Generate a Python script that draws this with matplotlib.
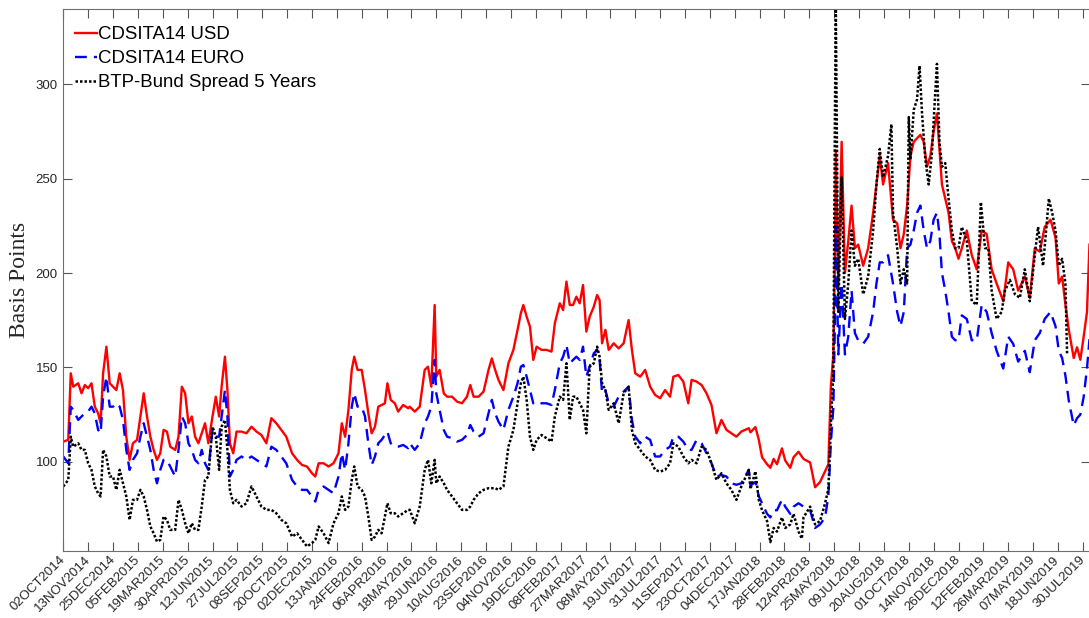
import matplotlib
matplotlib.use('Agg')
import matplotlib.pyplot as plt

# observation index (business days from 02OCT2014) for the two CDS series
cds_obs = [0, 6, 9, 12, 18, 22, 26, 30, 34, 38, 42, 45, 48, 52, 56, 60, 64, 68, 72, 76,
           80, 84, 89, 93, 97, 101, 105, 109, 113, 117, 121, 125, 129, 135, 139, 143, 147, 151, 155, 159,
           163, 167, 171, 175, 180, 184, 188, 191, 195, 198, 201, 205, 209, 215, 221, 227, 233, 239, 245, 251,
           257, 263, 269, 276, 282, 288, 294, 300, 304, 308, 314, 320, 326, 332, 336, 340, 344, 348, 351, 355,
           360, 364, 368, 372, 376, 380, 384, 388, 391, 395, 400, 404, 410, 416,
           418, 424, 430, 436, 440, 444, 448, 450, 454, 459, 463, 469, 475, 481, 487, 491, 495, 501, 507, 513,
           517, 521, 525, 531, 537, 543, 548, 552, 555, 559, 563, 567, 571, 577, 583, 589, 593, 599, 603, 607,
           611, 615, 619, 623, 627, 631, 635, 640, 644, 647, 650, 654, 658, 664, 670, 676, 682, 686, 690, 696,
           702, 708, 714, 720, 726, 732, 736, 742, 748, 754, 758, 764, 770, 776, 782, 788, 794, 800, 806, 812,
           818, 827,
           829, 835, 839, 843, 849, 853, 857, 861, 867, 871, 877, 881, 887, 893, 901, 907, 913, 919, 923, 926,
           929, 931, 932, 935, 939, 943, 947, 951, 955, 959, 965, 971, 977, 981, 985, 989, 995, 1001, 1006, 1010,
           1014, 1018, 1022, 1026, 1030, 1034, 1038, 1042, 1046, 1050, 1054, 1057, 1060, 1064, 1068, 1072, 1076, 1080, 1084, 1090,
           1096, 1102, 1108, 1114, 1120, 1126, 1134, 1140, 1146, 1152, 1160, 1166, 1172, 1178, 1184, 1191, 1197, 1201, 1205, 1209,
           1213, 1219, 1223, 1227, 1231, 1235, 1238]

usd = [110.7, 111.6, 146.9, 139.8, 141.6, 136.3, 140.7, 139, 141.6, 129.2, 125.7, 120.4, 146.9, 161, 141.6, 139.8, 138, 146.9, 138, 113.3,
       101, 109.8, 111.6, 124, 136.3, 124, 113.3, 106.3, 101, 104.5, 116.9, 116, 108, 106.3, 113.3, 139.8, 136.3, 120.4, 124, 113.3,
       109.8, 115.1, 120.4, 109.8, 124, 134.5, 124, 139.8, 155.7, 138, 109.8, 104.5, 116, 116, 115.1, 118.6, 116, 114.2, 109.8, 123.1,
       120.4, 116.9, 113.3, 104.5, 101, 98.3, 97.5, 93.9, 92.2, 99.2, 99.2, 97.5, 99.2, 104.5, 120.4, 113.3, 127.5, 148.7, 155.7, 148.7,
       148.7, 138, 125.7, 115.1, 118.6, 129.2, 130.1, 131, 141.6, 132.8, 131, 126.6, 130.1, 128.4,
       129.2, 126.6, 129.2, 148.7, 150.4, 139.8, 183.1, 145.1, 148.7, 136.3, 134.5, 134.5, 131.9, 131, 134.5, 140.7, 134.5, 134.5, 137.2, 148.7,
       154.8, 148.7, 143.4, 138, 152.2, 159.3, 169.9, 178.7, 183.1, 176.9, 171.6, 154, 161, 159.3, 159.3, 158.4, 173.4, 184, 180.4, 195.5,
       183.1, 183.1, 187.5, 184, 193.7, 169, 176.9, 182.2, 188.4, 185.7, 162.8, 169.9, 159.3, 162.8, 160.1, 162.8, 175.1, 159.3, 146.9, 145.1,
       148.7, 139.8, 135.4, 133.7, 138, 134.5, 145.1, 146, 142.5, 131, 143.4, 142.5, 140.7, 136.3, 130.1, 115.1, 122.2, 116.9, 115.1, 113.3,
       116, 117.8,
       115.6, 118.4, 111.8, 102.4, 98.7, 96.8, 101.5, 98.7, 107.1, 100.6, 96.8, 102.4, 105.3, 101.5, 99.6, 86.5, 89.3, 94.9, 98.7, 140,
       156.9, 213.2, 265, 194.5, 269.6, 200.1, 217, 235.8, 213.2, 215.1, 203.9, 213.2, 232, 247, 262.1, 247, 258.3, 228.3, 226.4, 213.2,
       220.7, 235.8, 262.1, 269.6, 271.5, 273.3, 269.6, 256.4, 262.1, 275.2, 284.6, 265.8, 247, 239.5, 232, 217, 213.2, 207.6, 213.2, 222.6,
       209.5, 202, 222.6, 220.7, 202, 194.5, 185.1, 205.7, 202, 190.7, 198.2, 186.9, 213.2, 211.4, 224.5, 228.3, 218.9, 194.5, 198.2, 183.2,
       170.1, 155, 160.7, 154.1, 166.3, 179.4, 215.1]

euro = [102.8, 99.2, 129.2, 127.5, 122.2, 124, 125.7, 126.6, 129.2, 125.7, 116.9, 115.1, 134.5, 145.1, 129.2, 129.2, 131, 129.2, 122.2, 106.3,
        95.7, 101, 104.5, 113.3, 120.4, 113.3, 106.3, 95.7, 88.6, 95.7, 101, 101, 97.5, 92.2, 106.3, 124, 120.4, 109.8, 106.3, 101,
        99.2, 106.3, 99.2, 95.7, 116.9, 113.3, 113.3, 124, 138, 124, 92.2, 95.7, 101, 102.8, 101, 102.8, 101, 99.2, 97.5, 108,
        106.3, 102.8, 99.2, 90.4, 86.9, 85.1, 85.1, 81.6, 78.9, 85.1, 86.9, 85.1, 83.3, 92.2, 104.5, 95.7, 109.8, 129.2, 136.3, 129.2,
        129.2, 124, 109.8, 98.3, 102.8, 109.8, 111.6, 114.2, 116, 109.8, 108, 108, 108.9, 107.2,
        109.8, 106.3, 109.8, 120.4, 124, 129.2, 154, 136.3, 127.5, 116.9, 113.3, 112.5, 110.7, 111.6, 114.2, 119.5, 116, 113.3, 115.1, 125.7,
        132.8, 125.7, 121.3, 116.9, 127.5, 134.5, 141.6, 150.4, 151.3, 145.1, 138, 131, 131.9, 131, 131, 130.1, 138, 152.2, 155.7, 161.9,
        152.2, 154, 155.7, 154, 161, 145.1, 150.4, 157.5, 159.3, 154, 136.3, 138, 131, 129.2, 134.5, 137.2, 139.8, 122.2, 113.3, 109.8,
        113.3, 111.6, 102.8, 102.8, 106.3, 108, 113.3, 113.3, 110.7, 106.3, 106.3, 111.6, 109.8, 104.5, 99.2, 92.2, 93, 92.2, 88.6, 87.8,
        88.6, 95.7,
        87.4, 89.3, 81.8, 78, 72.4, 70.5, 74.3, 74.3, 79.9, 76.2, 72.4, 76.2, 78, 76.2, 74.3, 64.9, 66.8, 70.5, 81.8, 110,
        128.7, 175.7, 225, 156.9, 194.5, 156.9, 166.3, 190.7, 168.2, 164.4, 162.5, 166.3, 179.4, 194.5, 205.7, 205.7, 209.5, 194.5, 179.4, 171.9,
        179.4, 213.2, 215.1, 222.6, 232, 235.8, 222.6, 213.2, 217, 228.3, 232, 220.7, 200.1, 190.7, 179.4, 166.3, 164.4, 164.4, 177.6, 175.7,
        164.4, 164.4, 183.2, 179.4, 168.2, 158.8, 149.4, 166.3, 162.5, 153.1, 158.8, 147.5, 164.4, 168.2, 175.7, 179.4, 171.9, 158.8, 155, 145.6,
        132.5, 119.3, 123.1, 125, 134.4, 149.4, 165]

# BTP-Bund spread, same index scale
btp_obs = cds_obs[:176] + [
    829, 835, 839, 843, 849, 853, 857, 861, 867, 871, 877, 881, 887, 891, 893, 901, 907, 913, 919, 923,
    926, 929, 931, 932, 935, 939, 943, 947, 951, 955, 959, 965, 971, 977, 981, 985, 989, 995, 999, 1001,
    1006, 1010, 1014, 1018, 1020, 1022, 1026, 1030, 1033, 1036, 1040, 1044, 1048, 1051, 1054, 1057, 1060, 1064, 1068, 1072,
    1076, 1080, 1084, 1090, 1096, 1102, 1107, 1112, 1116, 1120, 1126, 1132, 1136, 1142, 1148, 1154, 1160, 1166, 1172, 1176,
    1182, 1189, 1193, 1197, 1201, 1205, 1209, 1211]

btp = [86.9, 90.4, 113.3, 108, 109.8, 106.3, 106.3, 99.2, 95.7, 86.9, 83.3, 81.6, 106.3, 102.8, 92.2, 92.2, 85.1, 95.7, 88.6, 81.6,
       69.2, 79.8, 79.8, 85.1, 81.6, 74.5, 65.7, 62.1, 57.7, 58.6, 71, 69.2, 63.9, 63.9, 79.8, 74.5, 67.4, 62.1, 67.4, 63.9,
       63.9, 76.3, 90.4, 92.2, 118.6, 113.3, 95.7, 118.6, 122.2, 106.3, 85.1, 78, 79.8, 76.3, 78, 86.9, 81.6, 76.3, 74.5, 74.5,
       72.7, 69.2, 67.4, 60.3, 62.1, 58.6, 55.1, 56.9, 58.6, 65.7, 62.1, 56.9, 67.4, 72.7, 81.6, 74.5, 76.3, 90.4, 97.5, 86.9,
       85.1, 81.6, 71, 58.6, 60.3, 63.9, 62.1, 71, 78, 72.7, 72.7, 71, 72.7, 74.5,
       74.5, 67.4, 76.3, 95.7, 101, 88.6, 101, 88.6, 92.2, 88.6, 85.1, 81.6, 78, 74.5, 74.5, 76.3, 79.8, 83.3, 85.1, 86,
       86, 86, 85.1, 86.9, 108, 116.9, 131, 141.6, 145.1, 132.8, 113.3, 106.3, 111.6, 114.2, 112.5, 110.7, 124, 134.5, 132.8, 152.2,
       122.2, 134.5, 134.5, 131, 127.5, 115.1, 150.4, 152.2, 161, 155.7, 141.6, 138, 127.5, 131, 120.4, 136.3, 139.8, 116.9, 109.8, 106.3,
       102.8, 101, 95.7, 94.8, 95.7, 99.2, 109.8, 108, 102.8, 99.2, 101, 99.2, 108, 106.3, 99.2, 90.4, 93.9, 88.6, 85.1, 79.8,
       86.9, 95.7,
       85.5, 94.9, 79.9, 74.3, 68.6, 57.4, 64.9, 63, 70.5, 64.9, 66.8, 72.4, 63, 59.3, 70.5, 76.2, 66.8, 68.6, 78, 85.5,
       119.3, 147.5, 288.4, 340, 179.4, 250.8, 175.7, 194.5, 222.6, 203.9, 207.6, 188.8, 198.2, 222.6, 247, 265.8, 250.8, 262.1, 278.9, 232,
       213.2, 194.5, 202, 194.5, 282.7, 260.2, 286.5, 292.1, 309.9, 284.6, 260.2, 247, 263.9, 288.4, 310.9, 269.6, 256.4, 258.3, 239.5, 222.6,
       213.2, 213.2, 224.5, 217, 185.1, 183.2, 237.7, 213.2, 213.2, 190.7, 175.7, 179.4, 190.7, 196.4, 188.8, 186.9, 202, 185.1, 209.5, 224.5,
       203.9, 239.5, 232, 222.6, 203.9, 207.6, 194.5, 156.9]

# one tick every 30 observations
tick_labels = ['02OCT2014', '13NOV2014', '25DEC2014', '05FEB2015', '19MAR2015', '30APR2015', '12JUN2015',
               '27JUL2015', '08SEP2015', '20OCT2015', '02DEC2015', '13JAN2016', '24FEB2016', '06APR2016',
               '18MAY2016', '29JUN2016', '10AUG2016', '23SEP2016', '04NOV2016', '19DEC2016', '08FEB2017',
               '27MAR2017', '08MAY2017', '19JUN2017', '31JUL2017', '11SEP2017', '23OCT2017', '04DEC2017',
               '17JAN2018', '28FEB2018', '12APR2018', '25MAY2018', '09JUL2018', '20AUG2018', '01OCT2018',
               '14NOV2018', '26DEC2018', '12FEB2019', '26MAR2019', '07MAY2019', '18JUN2019', '30JUL2019']
tick_pos = [30 * i for i in range(len(tick_labels))]

fig = plt.figure(figsize=(10.89, 6.18), dpi=100)
ax = fig.add_axes([63.3 / 1089, 67 / 618, 1027 / 1089, 542 / 618])

ax.plot(cds_obs, usd, color='red', lw=1.7, label='CDSITA14 USD')
ax.plot(cds_obs, euro, color='blue', lw=1.7, linestyle=(0, (5, 3)), label='CDSITA14 EURO')
ax.plot(btp_obs, btp, color='black', lw=1.8, linestyle=(0, (1, 0.8)), label='BTP-Bund Spread 5 Years')

ax.set_xlim(0, 1239)
ax.set_ylim(52.7, 340)
ax.set_yticks([100, 150, 200, 250, 300])
ax.set_xticks(tick_pos)
ax.set_xticklabels(tick_labels, rotation=45, ha='right', va='center', rotation_mode='anchor',
                   family='Liberation Sans', fontsize=9.5, color='#262626')
for t in ax.get_yticklabels():
    t.set_family('Liberation Sans')
    t.set_fontsize(9.5)
    t.set_color('#262626')

ax.tick_params(direction='in', length=6.5, width=0.8, color='#555555', top=True, right=True, pad=4)
ax.tick_params(axis='x', pad=5)
for s in ax.spines.values():
    s.set_color('#6e6e6e')
    s.set_linewidth(0.8)

ax.set_ylabel('Basis Points', family='Liberation Serif', fontsize=17, color='#262626', va='center')
ax.yaxis.set_label_coords(-0.043, 0.5)

ax.legend(loc='upper left', bbox_to_anchor=(0.0114, 0.968), frameon=False, borderaxespad=0, borderpad=0,
          handlelength=1.2, handletextpad=0.05, labelspacing=0.37,
          prop={'family': 'Liberation Sans', 'size': 13.4})

plt.savefig('out.png', dpi=100)
